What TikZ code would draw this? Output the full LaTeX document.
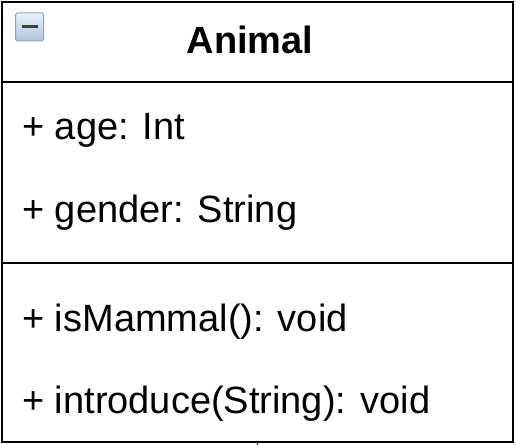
\documentclass[tikz,border=0pt]{standalone}
\usepackage{fontspec}
\setmainfont{Liberation Sans}

\begin{document}
\begin{tikzpicture}[x = 1pt, y = -1pt,
  compartment/.style = {draw, line width=2.6pt, minimum width=511pt, anchor=north west, inner sep=0pt, outer sep=0pt},
  member/.style = {anchor=base west, inner sep=0pt, font=\fontsize{38}{40}\selectfont},
  toggle/.style = {draw={rgb,255:red,140;green,160;blue,185}, line width=1pt, rounded corners=1.5pt, minimum size=28pt, inner sep=0pt, top color={rgb,255:red,235;green,242;blue,250}, bottom color={rgb,255:red,175;green,195;blue,220}},]

\useasboundingbox (0,0) rectangle (516,444);

\node[compartment, minimum height=80pt] (H) at (2,2) {};
\node[compartment, minimum height=181pt] (A) at (2,82) {};
\node[compartment, minimum height=179pt] (M) at (2,263) {};

\node[toggle] (T) at (29.5,27) {};
\draw[line width=3pt, black!75] ([xshift=-8pt]T.center) -- ([xshift=8pt]T.center);

\node[anchor=base, inner sep=0pt, font=\fontsize{38}{40}\selectfont\bfseries] (N) at (250,53) {Animal};

\node[member] (age) at (22,139) {+ age: Int};
\node[member] (gender) at (22,222) {+ gender: String};
\node[member] (mammal) at (22,331) {+ isMammal(): void};
\node[member] (intro) at (22,413) {+ introduce(String): void};

\coordinate (tail) at (257.5,446);
\draw[line width=1.5pt] (M.south) -- (tail);

\end{tikzpicture}
\end{document}
